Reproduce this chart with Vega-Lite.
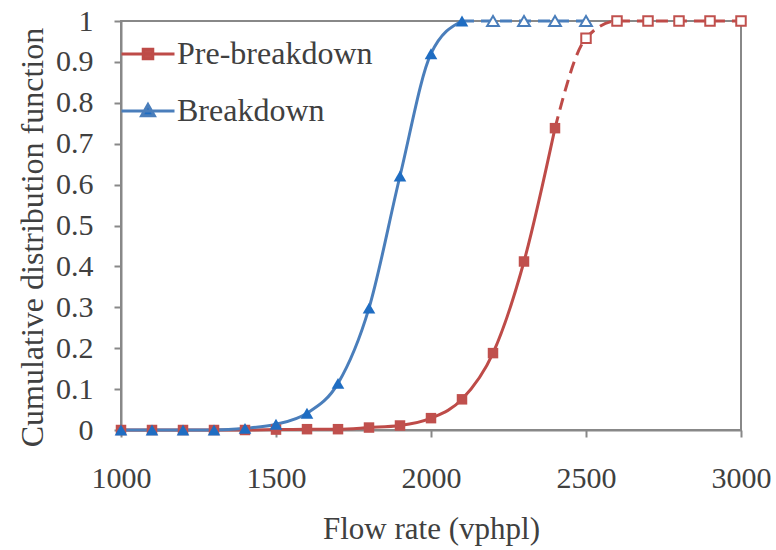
{
  "$schema": "https://vega.github.io/schema/vega-lite/v6.json",
  "width": 620,
  "height": 409,
  "autosize": {"type": "none"},
  "padding": {"left": 121, "top": 21, "right": 35, "bottom": 120},
  "background": "white",
  "config": {
    "font": "Times New Roman, Liberation Serif, serif",
    "view": {"stroke": "#888888", "strokeWidth": 2},
    "axis": {
      "grid": false,
      "domainColor": "#888888",
      "domainWidth": 2,
      "tickColor": "#888888",
      "tickWidth": 2,
      "tickSize": 7,
      "labelFont": "Times New Roman, Liberation Serif, serif",
      "labelFontSize": 30,
      "labelColor": "#404040",
      "titleFont": "Times New Roman, Liberation Serif, serif",
      "titleFontSize": 31,
      "titleFontWeight": "normal",
      "titleColor": "#404040"
    },
    "legend": {
      "orient": "none",
      "legendX": -1,
      "legendY": 5,
      "padding": 0,
      "symbolSize": 2809,
      "symbolStrokeWidth": 3,
      "labelFont": "Times New Roman, Liberation Serif, serif",
      "labelFontSize": 32,
      "labelColor": "#404040",
      "labelLimit": 400,
      "labelOffset": 1,
      "rowPadding": 13
    }
  },
  "data": {
    "values": [
      {"series": "Pre-breakdown", "flow": 1000, "cdf": 0},
      {"series": "Pre-breakdown", "flow": 1100, "cdf": 0},
      {"series": "Pre-breakdown", "flow": 1200, "cdf": 0},
      {"series": "Pre-breakdown", "flow": 1300, "cdf": 0},
      {"series": "Pre-breakdown", "flow": 1400, "cdf": 0},
      {"series": "Pre-breakdown", "flow": 1500, "cdf": 0.001},
      {"series": "Pre-breakdown", "flow": 1600, "cdf": 0.002},
      {"series": "Pre-breakdown", "flow": 1700, "cdf": 0.002},
      {"series": "Pre-breakdown", "flow": 1800, "cdf": 0.006},
      {"series": "Pre-breakdown", "flow": 1900, "cdf": 0.011},
      {"series": "Pre-breakdown", "flow": 2000, "cdf": 0.029},
      {"series": "Pre-breakdown", "flow": 2100, "cdf": 0.075},
      {"series": "Pre-breakdown", "flow": 2200, "cdf": 0.188},
      {"series": "Pre-breakdown", "flow": 2300, "cdf": 0.412},
      {"series": "Pre-breakdown", "flow": 2400, "cdf": 0.738},
      {"series": "Pre-breakdown", "flow": 2500, "cdf": 0.958},
      {"series": "Pre-breakdown", "flow": 2600, "cdf": 1},
      {"series": "Pre-breakdown", "flow": 2700, "cdf": 1},
      {"series": "Pre-breakdown", "flow": 2800, "cdf": 1},
      {"series": "Pre-breakdown", "flow": 2900, "cdf": 1},
      {"series": "Pre-breakdown", "flow": 3000, "cdf": 1},
      {"series": "Breakdown", "flow": 1000, "cdf": 0},
      {"series": "Breakdown", "flow": 1100, "cdf": 0},
      {"series": "Breakdown", "flow": 1200, "cdf": 0},
      {"series": "Breakdown", "flow": 1300, "cdf": 0},
      {"series": "Breakdown", "flow": 1400, "cdf": 0.004},
      {"series": "Breakdown", "flow": 1500, "cdf": 0.014},
      {"series": "Breakdown", "flow": 1600, "cdf": 0.041},
      {"series": "Breakdown", "flow": 1700, "cdf": 0.114},
      {"series": "Breakdown", "flow": 1800, "cdf": 0.298},
      {"series": "Breakdown", "flow": 1900, "cdf": 0.621},
      {"series": "Breakdown", "flow": 2000, "cdf": 0.92},
      {"series": "Breakdown", "flow": 2100, "cdf": 1},
      {"series": "Breakdown", "flow": 2200, "cdf": 1},
      {"series": "Breakdown", "flow": 2300, "cdf": 1},
      {"series": "Breakdown", "flow": 2400, "cdf": 1},
      {"series": "Breakdown", "flow": 2500, "cdf": 1}
    ]
  },
  "encoding": {
    "x": {
      "field": "flow",
      "type": "quantitative",
      "scale": {"domain": [1000, 3000], "nice": false, "zero": false},
      "axis": {
        "title": "Flow rate (vphpl)",
        "values": [1000, 1500, 2000, 2500, 3000],
        "format": "d",
        "labelBaseline": "alphabetic",
        "labelPadding": 50,
        "labelFlush": false,
        "titleX": 310,
        "titleY": 108,
        "titleBaseline": "alphabetic"
      }
    },
    "y": {
      "field": "cdf",
      "type": "quantitative",
      "scale": {"domain": [0, 1], "nice": false},
      "axis": {
        "title": "Cumulative distribution function",
        "titleFontSize": 32,
        "values": [0, 0.1, 0.2, 0.3, 0.4, 0.5, 0.6, 0.7, 0.8, 0.9, 1],
        "format": ".1~f",
        "labelPadding": 21,
        "labelBaseline": "middle",
        "labelFlush": false,
        "titleX": -79,
        "titleY": 216,
        "titleAngle": 270,
        "titleAlign": "center",
        "titleBaseline": "alphabetic"
      }
    }
  },
  "layer": [
    {
      "transform": [{"filter": "datum.series === 'Pre-breakdown' && datum.flow <= 2400"}],
      "mark": {"type": "line", "interpolate": "monotone", "color": "#BE4B48", "strokeWidth": 3}
    },
    {
      "transform": [{"filter": "datum.series === 'Pre-breakdown' && datum.flow >= 2400"}],
      "mark": {"type": "line", "interpolate": "monotone", "color": "#BE4B48", "strokeWidth": 3, "strokeDash": [12, 7]}
    },
    {
      "transform": [{"filter": "datum.series === 'Breakdown' && datum.flow <= 2100"}],
      "mark": {"type": "line", "interpolate": "monotone", "color": "#4A7EBB", "strokeWidth": 3}
    },
    {
      "transform": [{"filter": "datum.series === 'Breakdown' && datum.flow >= 2100"}],
      "mark": {"type": "line", "interpolate": "monotone", "color": "#4A7EBB", "strokeWidth": 3, "strokeDash": [12, 7]}
    },
    {
      "transform": [{"filter": "datum.series === 'Pre-breakdown' && datum.flow <= 2400"}],
      "mark": {"type": "point", "shape": "square", "filled": true, "size": 110, "color": "#C0504D", "opacity": 1}
    },
    {
      "transform": [{"filter": "datum.series === 'Pre-breakdown' && datum.flow >= 2500"}],
      "mark": {"type": "point", "shape": "square", "filled": false, "fill": "white", "size": 90, "stroke": "#C0504D", "strokeWidth": 2, "opacity": 1}
    },
    {
      "transform": [{"filter": "datum.series === 'Breakdown' && datum.flow <= 2100"}],
      "mark": {"type": "point", "shape": "triangle-up", "filled": true, "size": 160, "color": "#1F6DC2", "opacity": 1}
    },
    {
      "transform": [{"filter": "datum.series === 'Breakdown' && datum.flow >= 2200"}],
      "mark": {"type": "point", "shape": "triangle-up", "filled": false, "fill": "white", "size": 140, "stroke": "#4A7EBB", "strokeWidth": 2, "opacity": 1}
    },
    {
      "transform": [{"filter": "false"}],
      "mark": {"type": "point", "filled": true, "opacity": 1},
      "encoding": {
        "fill": {
          "field": "series",
          "type": "nominal",
          "scale": {"domain": ["Pre-breakdown", "Breakdown"], "range": ["#C0504D", "#1F6DC2"]},
          "legend": {"title": null}
        },
        "stroke": {
          "field": "series",
          "type": "nominal",
          "scale": {"domain": ["Pre-breakdown", "Breakdown"], "range": ["#BE4B48", "#4A7EBB"]},
          "legend": {"title": null}
        },
        "shape": {
          "field": "series",
          "type": "nominal",
          "scale": {
            "domain": ["Pre-breakdown", "Breakdown"],
            "range": ["M-1,0H1M-0.18,-0.18H0.18V0.18H-0.18Z", "M-1,0H1M0,-0.24L0.24,0.18H-0.24Z"]
          },
          "legend": {"title": null}
        }
      }
    }
  ]
}
